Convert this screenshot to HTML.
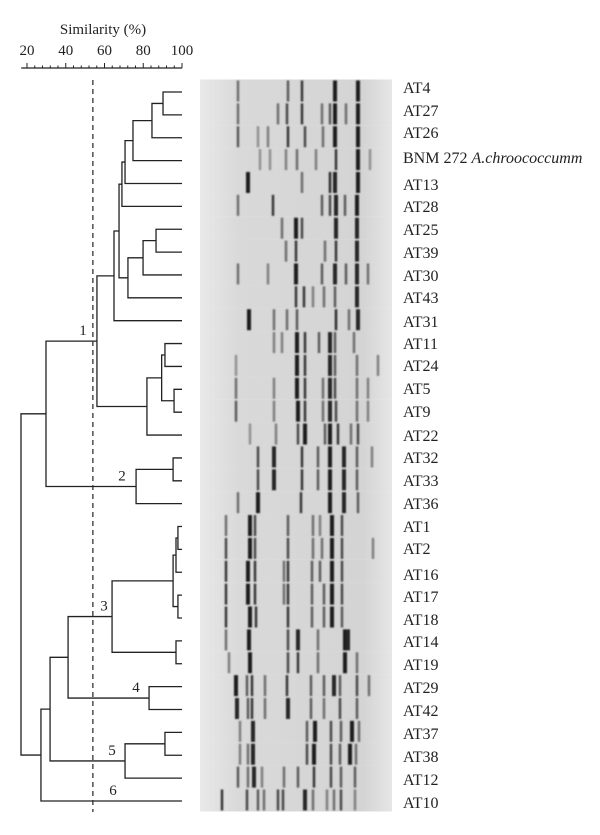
<!DOCTYPE html>
<html><head><meta charset="utf-8">
<style>
body{margin:0;background:#fff;}
svg{display:block;font-family:"Liberation Serif",serif;}
</style></head>
<body>
<svg id="chart" width="600" height="835" viewBox="0 0 600 835" xmlns="http://www.w3.org/2000/svg">
<text x="103" y="34" font-size="15" text-anchor="middle" fill="#222">Similarity (%)</text>
<g id="axis"></g>
<g id="gel"></g>
<g id="tree"></g>
<g id="labels"></g>
</svg>
<script>
const tickValues=[20,40,60,80,100];
const cutoff=54;
const strains=["AT4","AT27","AT26","BNM 272","AT13","AT28","AT25","AT39","AT30","AT43","AT31","AT11","AT24","AT5","AT9","AT22","AT32","AT33","AT36","AT1","AT2","AT16","AT17","AT18","AT14","AT19","AT29","AT42","AT37","AT38","AT12","AT10"];
const labelY=[88,111,133,158,185,207,230,253,276,298,322,344,366,389,412,436,458,481,504,527,549,575,597,620,642,665,688,711,734,757,780,803];
const mergeA=[0,32,33,34,35,6,37,38,36,40,11,13,42,44,41,16,47,46,19,50,22,51,24,53,26,55,28,58,57,60,49];
const mergeB=[1,2,3,4,5,7,8,9,39,10,12,14,43,15,45,17,18,48,20,21,23,52,25,54,27,56,29,30,59,31,61];
const mergeSim=[90.2,84.5,74.7,70.6,69.0,86.6,79.9,72.1,67.5,64.9,91.2,95.9,89.5,81.9,56.1,95.4,76.3,29.8,97.9,96.9,97.9,95.4,96.9,63.9,83.0,41.2,91.2,70.6,31.9,27.2,16.9];
const clusterNames=["1","2","3","4","5","6"];
const clusterNode=[46,48,55,56,59,31];
const bands=[
[[238,.5],[288,.6],[302,.8],[335,.95],[358,.95]],
[[238,.5],[278,.5],[287,.7],[302,.8],[322,.5],[330,.6],[335,.95],[346,.5],[358,.95]],
[[238,.6],[258,.3],[268,.4],[288,.8],[305,.7],[323,.5],[335,.95],[358,.95]],
[[260,.3],[270,.3],[286,.4],[297,.5],[316,.4],[336,.8],[358,.95],[370,.3]],
[[248,.95],[302,.5],[330,.85],[335,.9],[358,.95]],
[[238,.5],[273,.8],[322,.6],[330,.7],[336,.9],[345,.6],[357,.95]],
[[282,.5],[296,.95],[302,.7],[336,.9],[357,.9]],
[[286,.5],[296,.8],[325,.5],[336,.8],[357,.9]],
[[238,.5],[268,.4],[296,.95],[322,.6],[335,.9],[346,.6],[357,.9],[368,.5]],
[[296,.8],[304,.8],[313,.4],[324,.5],[335,.6],[357,.9]],
[[249,.95],[274,.5],[287,.5],[297,.6],[336,.85],[349,.5],[358,.9]],
[[274,.4],[282,.4],[297,.95],[305,.8],[319,.6],[330,.9],[335,.6],[354,.5]],
[[236,.3],[297,.95],[305,.8],[330,.9],[335,.6],[357,.5],[378,.4]],
[[236,.5],[274,.4],[297,.95],[305,.8],[323,.5],[330,.9],[335,.7],[357,.5],[368,.4]],
[[236,.6],[274,.4],[298,.95],[305,.8],[323,.5],[330,.9],[336,.7],[357,.5],[368,.4]],
[[250,.3],[276,.4],[298,.7],[305,.95],[325,.6],[330,.95],[338,.8],[351,.5],[358,.7]],
[[258,.7],[274,.9],[302,.8],[318,.6],[330,.95],[344,.9],[357,.6],[372,.4]],
[[258,.7],[274,.9],[302,.8],[318,.6],[330,.95],[344,.9],[357,.6]],
[[238,.5],[258,.95],[301,.8],[330,.95],[344,.9],[358,.6]],
[[226,.5],[250,.95],[255,.7],[288,.6],[313,.5],[320,.4],[332,.95],[342,.7]],
[[226,.7],[250,.95],[255,.7],[288,.7],[313,.5],[322,.5],[332,.95],[342,.7],[373,.4]],
[[226,.8],[248,.95],[255,.8],[284,.5],[288,.8],[312,.6],[320,.6],[332,.95],[342,.7]],
[[226,.8],[248,.95],[255,.8],[284,.5],[288,.8],[312,.6],[324,.6],[332,.95],[342,.7]],
[[226,.8],[250,.95],[256,.8],[288,.8],[312,.6],[324,.6],[332,.95],[342,.6]],
[[226,.5],[249,.95],[288,.7],[298,.9],[318,.5],[345,.95],[348,.9]],
[[229,.4],[250,.95],[288,.7],[298,.8],[318,.5],[345,.95],[357,.5]],
[[236,.95],[247,.6],[252,.8],[265,.5],[287,.8],[311,.6],[324,.6],[334,.9],[340,.6],[357,.7],[369,.5]],
[[237,.9],[248,.6],[252,.8],[265,.5],[288,.9],[311,.6],[324,.5],[340,.7],[357,.6]],
[[240,.4],[253,.9],[307,.6],[315,.95],[331,.7],[341,.6],[352,.95],[359,.5]],
[[240,.4],[248,.5],[253,.9],[307,.7],[314,.95],[331,.7],[340,.6],[350,.95],[356,.5]],
[[238,.6],[248,.5],[254,.9],[262,.4],[284,.5],[298,.6],[314,.8],[331,.7],[341,.6],[355,.6]],
[[222,.8],[247,.7],[258,.6],[264,.5],[278,.7],[283,.7],[305,.9],[313,.5],[327,.4],[334,.5],[341,.7],[355,.4]]
];

const NS="http://www.w3.org/2000/svg";
function sx(s){return 27+(s-20)*1.9375;}
function leafY(i){return 92+i*22.87;}
function mk(tag,attrs,parent){const e=document.createElementNS(NS,tag);for(const k in attrs)e.setAttribute(k,attrs[k]);parent.appendChild(e);return e;}
const axis=document.getElementById('axis'),tree=document.getElementById('tree'),gel=document.getElementById('gel'),labels=document.getElementById('labels');

let l=mk('line',{x1:sx(17),x2:sx(100),y1:68,y2:68,stroke:'#222','stroke-width':1.2},axis);


for(let v=20;v<=100;v+=4){
  const t=mk('line',{x1:sx(v),x2:sx(v),y1:68,y2:tickValues.includes(v)?63:65.5,stroke:'#222','stroke-width':1},axis);
  
  
}
tickValues.forEach(v=>{
  const t=mk('text',{x:sx(v),y:55,'font-size':15,'text-anchor':'middle',fill:'#222'},axis);
  t.textContent=v;
  
  
});

const defs=mk('defs',{},gel);
const gr=mk('linearGradient',{id:'laneg',x1:0,x2:1,y1:0,y2:0},defs);
mk('stop',{offset:0,'stop-color':'#e9e9e9'},gr);
mk('stop',{offset:.2,'stop-color':'#d9d9d9'},gr);
mk('stop',{offset:.85,'stop-color':'#d4d4d4'},gr);
mk('stop',{offset:1,'stop-color':'#e6e6e6'},gr);
const flt=mk('filter',{id:'soft',x:'-50%',y:'-10%',width:'200%',height:'120%'},defs);
mk('feGaussianBlur',{stdDeviation:'0.7'},flt);
const bandLayer=mk('g',{filter:'url(#soft)'},gel);
strains.forEach((s,i)=>{
  const top=leafY(i)-12.5;
  const r=mk('rect',{x:200,y:top,width:192,height:23,fill:'url(#laneg)'},gel);
  
  
  bands[i].forEach(b=>{
    const g=Math.round(200-b[1]*180);
    const w=b[1]>.85?4:2.5;
    const br=mk('rect',{x:b[0]-w/2,y:top+1,width:w,height:21,fill:`rgb(${g},${g},${g})`},bandLayer);
    
    
  });
});
gel.appendChild(bandLayer);

const nodeX={},nodeY={};
strains.forEach((s,i)=>{nodeX[i]=sx(100);nodeY[i]=leafY(i);});
mergeA.forEach((a,k)=>{
  const b=mergeB[k],id=32+k,x=sx(mergeSim[k]);
  nodeX[id]=x;nodeY[id]=(nodeY[a]+nodeY[b])/2;
  const p=mk('path',{d:`M${nodeX[a]},${nodeY[a]}H${x}V${nodeY[b]}H${nodeX[b]}`,fill:'none',stroke:'#222','stroke-width':1.3},tree);
  
  
});
const cut=mk('line',{x1:sx(cutoff),x2:sx(cutoff),y1:80,y2:812,stroke:'#333','stroke-width':1.3,'stroke-dasharray':'5,4'},tree);


clusterNode.forEach((n,k)=>{
  const t=mk('text',{x:[83,122,104,136,112,113][k],y:nodeY[n]-6,'font-size':15,'text-anchor':'middle',fill:'#222'},tree);
  t.textContent=clusterNames[k];
  
  
});

strains.forEach((s,i)=>{
  const t=mk('text',{x:403,y:labelY[i]+5,'font-size':16,fill:'#222'},labels);
  
  
  if(i===3){t.textContent='BNM 272 ';const it=mk('tspan',{'font-style':'italic'},t);it.textContent='A.chroococcumm';}
  else t.textContent=s;
});
</script>
</body></html>
